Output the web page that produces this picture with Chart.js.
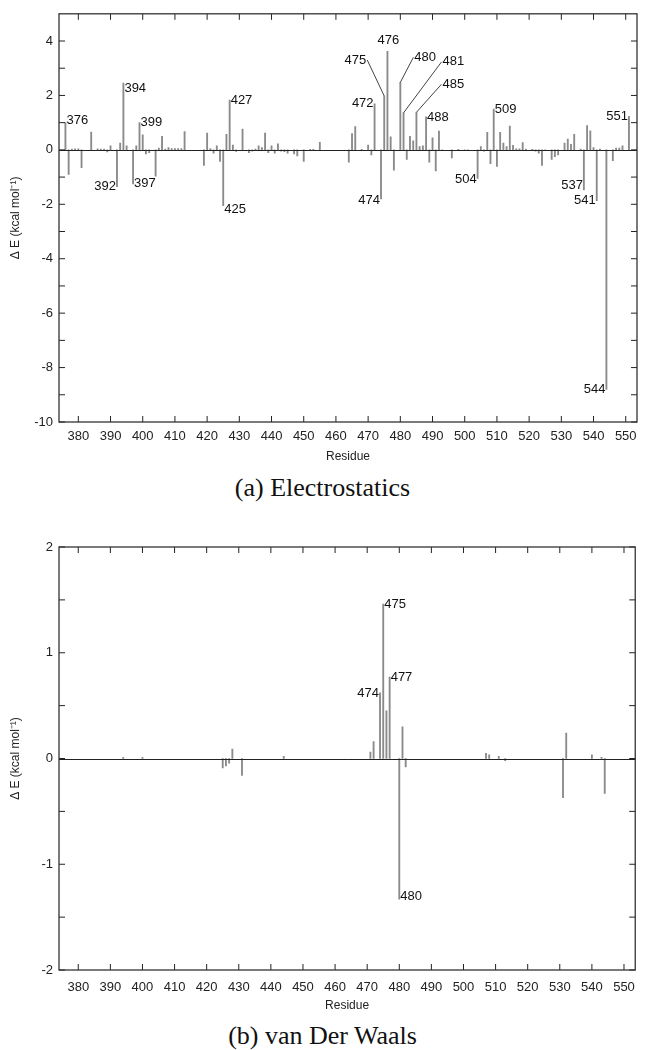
<!DOCTYPE html>
<html>
<head>
<meta charset="utf-8">
<script src="https://cdn.jsdelivr.net/npm/chart.js@4.4.1/dist/chart.umd.min.js"></script>
<style>
  body { margin: 0; background: #fff; }
  .page { position: relative; width: 645px; height: 1050px; }
  .plot { position: absolute; left: 0; width: 645px; }
  .caption {
    position: absolute; left: 0; width: 645px; text-align: center;
    font-family: 'Liberation Serif', 'Times New Roman', serif;
    font-size: 26px; line-height: 32px; color: #111;
  }
</style>
</head>
<body>
<div class="page">
  <div class="plot" style="top:0;height:470px"><canvas id="elecChart"></canvas></div>
  <div class="caption" style="top:472px">(a) Electrostatics</div>
  <div class="plot" style="top:500px;height:520px"><canvas id="vdwChart"></canvas></div>
  <div class="caption" style="top:1020px">(b) van Der Waals</div>
</div>
<script>
// --- data ---
const xTicks = [380, 390, 400, 410, 420, 430, 440, 450, 460, 470, 480, 490, 500, 510, 520, 530, 540, 550];

// (a) electrostatics, kcal/mol per residue
const elecResidues = [
  376, 377, 378, 379, 380, 381, 384, 386, 387, 388, 389, 390, 392, 393, 394, 395, 397, 398, 399, 400,
  401, 402, 404, 405, 406, 407, 408, 409, 410, 411, 412, 413, 419, 420, 421, 422, 423, 424, 425, 426,
  427, 428, 429, 431, 433, 434, 435, 436, 437, 438, 439, 440, 441, 442, 443, 444, 445, 447, 448, 450,
  452, 453, 455, 464, 465, 466, 468, 470, 471, 472, 474, 475, 476, 477, 478, 480, 481, 482, 483, 484,
  485, 486, 487, 488, 489, 490, 491, 492, 493, 496, 498, 500, 501, 504, 505, 506, 507, 508, 509, 510,
  511, 512, 513, 514, 515, 516, 517, 518, 519, 521, 522, 523, 524, 525, 527, 528, 529, 531, 532, 533,
  534, 536, 537, 538, 539, 540, 541, 542, 544, 546, 547, 548, 549, 551
];
const elecValues = [
  1.0, -0.9, 0.03, 0.04, 0.04, -0.65, 0.65, 0.04, 0.03, 0.03, -0.08, 0.15, -1.35, 0.25, 2.45, 0.15, -1.25, 0.15, 1.0, 0.55,
  -0.15, -0.1, -0.97, 0.07, 0.5, 0.03, 0.08, 0.05, 0.05, 0.05, 0.05, 0.67, -0.57, 0.62, 0.05, -0.12, 0.15, -0.42, -2.05, 0.57,
  1.83, 0.18, -0.06, 0.76, -0.1, -0.05, 0.03, 0.15, 0.08, 0.62, -0.1, 0.15, -0.12, 0.22, -0.05, -0.07, -0.12, -0.15, -0.22, -0.42,
  0.02, 0.02, 0.28, -0.45, 0.6, 0.86, 0.02, 0.18, -0.19, 1.69, -1.8, 1.98, 3.62, 0.48, -0.75, 2.48, 1.36, -0.35, 0.5, 0.33,
  1.38, 0.12, 0.15, 1.21, -0.45, 0.44, -0.77, 0.69, -0.03, -0.3, 0.02, -0.02, -0.03, -1.05, 0.12, -0.05, 0.64, -0.51, 1.5, -0.61,
  0.64, 0.25, 0.12, 0.87, 0.17, 0.04, 0.04, 0.27, 0.03, 0.02, -0.05, -0.12, -0.57, -0.03, -0.35, -0.25, -0.19, 0.25, 0.4, 0.2,
  0.57, 0.03, -1.47, 0.89, 0.7, 0.08, -1.87, 0.03, -8.8, -0.4, 0.07, 0.07, 0.15, 1.23
];
const elecYTicks = [-10, -8, -6, -4, -2, 0, 2, 4];
const elecLabelled = [376, 392, 394, 397, 399, 425, 427, 472, 474, 475, 476, 480, 481, 485, 488, 504, 509, 537, 541, 544, 551];

// (b) van der Waals
const vdwResidues = [394, 400, 425, 426, 427, 428, 431, 444, 471, 472, 474, 475, 476, 477, 480, 481, 482, 507, 508, 511, 513, 531, 532, 540, 543, 544];
const vdwValues = [0.01, 0.01, -0.09, -0.07, -0.045, 0.09, -0.16, 0.02, 0.06, 0.16, 0.62, 1.46, 0.45, 0.77, -1.33, 0.3, -0.08, 0.05, 0.035, 0.02, -0.02, -0.37, 0.24, 0.035, 0.01, -0.33];
const vdwYTicks = [-2, -1, 0, 1, 2];
const vdwLabelled = [474, 475, 477, 480];

// --- label placement (style only) ---
const elecLabelPlace = {
    376: { align: 'left', dy: -2 },
    392: { align: 'right' },
    394: { align: 'left', dy: 5 },
    397: { align: 'left' },
    399: { align: 'left' },
    425: { align: 'left', dy: 4 },
    427: { align: 'left' },
    472: { align: 'right' },
    474: { align: 'right', dy: 2 },
    475: { align: 'right', dx: -17, dy: -36, leader: true },
    476: { align: 'center' },
    480: { align: 'left', dx: 13, dy: -25, leader: true },
    481: { align: 'left', dx: 38, dy: -51, leader: true },
    485: { align: 'left', dx: 25, dy: -28, leader: true },
    488: { align: 'left' },
    504: { align: 'right', dy: 1 },
    509: { align: 'left' },
    537: { align: 'right', dy: -4 },
    541: { align: 'right' },
    544: { align: 'right' },
    551: { align: 'right' }
};
const vdwLabelPlace = {
    474: { align: 'right' },
    475: { align: 'left' },
    477: { align: 'left' },
    480: { align: 'left', dy: -3 }
};

Chart.defaults.font.family = "'Liberation Sans', Arial, sans-serif";
Chart.defaults.font.size = 13;
Chart.defaults.color = '#222';

// gnuplot-like box, zero axis and inward ticks
const gnuFrame = {
    id: 'gnuFrame',
    afterDatasetsDraw(chart) {
        const { ctx, chartArea: a, scales: { x, y } } = chart;
        const seg = (x1, y1, x2, y2) => { ctx.beginPath(); ctx.moveTo(x1, y1); ctx.lineTo(x2, y2); ctx.stroke(); };
        ctx.save();
        ctx.strokeStyle = '#222';
        ctx.lineWidth = 1;
        const y0 = Math.round(y.getPixelForValue(0)) + 0.5;
        seg(a.left, y0, a.right, y0);

        const len = 6;
        x.ticks.forEach(t => {
            const px = x.getPixelForValue(t.value);
            seg(px, a.bottom, px, a.bottom - len);
            seg(px, a.top, px, a.top + len);
        });
        const yv = y.ticks.map(t => t.value);
        const marks = yv.slice();
        for (let i = 0; i < yv.length - 1; i++) marks.push((yv[i] + yv[i + 1]) / 2);
        marks.forEach(v => {
            const py = y.getPixelForValue(v);
            seg(a.left, py, a.left + len, py);
            seg(a.right, py, a.right - len, py);
        });

        ctx.strokeStyle = '#333';
        ctx.lineWidth = 1.3;
        ctx.strokeRect(a.left, a.top, a.right - a.left, a.bottom - a.top);
        ctx.restore();
    }
};

// residue number labels at the tips of chosen impulses
const impulseLabels = {
    id: 'impulseLabels',
    afterDatasetsDraw(chart, args, opts) {
        const { ctx, scales: { x, y } } = chart;
        ctx.save();
        ctx.font = '13px ' + Chart.defaults.font.family;
        ctx.fillStyle = '#111';
        ctx.strokeStyle = '#444';
        ctx.lineWidth = 1;
        opts.labelled.forEach(res => {
            const i = opts.residues.indexOf(res);
            const v = opts.values[i];
            const px = x.getPixelForValue(res);
            const py = y.getPixelForValue(v);
            const p = opts.place[res] || { align: 'left' };
            const tx = px + (p.dx || 0);
            const ty = py + (p.dy || 0);
            if (p.leader) {
                ctx.beginPath();
                ctx.moveTo(px, py);
                ctx.lineTo(tx, ty);
                ctx.stroke();
            }
            if (p.align === 'center') {
                ctx.textAlign = 'center';
                ctx.textBaseline = 'bottom';
                ctx.fillText(String(res), px + 1, py - 4);
            } else {
                ctx.textAlign = p.align;
                ctx.textBaseline = 'middle';
                ctx.fillText(String(res), tx + (p.align === 'left' ? 1 : -1), ty);
            }
        });
        ctx.restore();
    }
};

function makeImpulseChart(canvasId, residues, values, yTicks, yMin, yMax, labelled, place, cfg) {
    return new Chart(document.getElementById(canvasId), {
        type: 'bar',
        data: {
            datasets: [{
                data: residues.map((r, i) => ({ x: r, y: values[i] })),
                backgroundColor: '#8a8a8a',
                borderWidth: 0,
                barThickness: 1.2
            }]
        },
        plugins: [gnuFrame, impulseLabels],
        options: {
            responsive: true,
            maintainAspectRatio: false,
            animation: false,
            layout: { padding: { left: 0, right: 8, top: cfg.padTop, bottom: 0 } },
            plugins: {
                legend: { display: false },
                tooltip: { enabled: false },
                impulseLabels: { residues, values, labelled, place }
            },
            scales: {
                x: {
                    type: 'linear',
                    min: 374,
                    max: 553.5,
                    offset: false,
                    afterBuildTicks: (axis) => { axis.ticks = xTicks.map(v => ({ value: v })); },
                    afterFit: (axis) => { axis.height = cfg.xAxisHeight; },
                    grid: { display: false, drawTicks: false },
                    border: { display: false },
                    ticks: { padding: cfg.tickPad, maxRotation: 0, autoSkip: false, color: '#222' },
                    title: {
                        display: true, text: 'Residue', color: '#222',
                        font: { size: 12 }, padding: { top: 0, bottom: cfg.titlePad }
                    }
                },
                y: {
                    min: yMin,
                    max: yMax,
                    afterBuildTicks: (axis) => { axis.ticks = yTicks.map(v => ({ value: v })); },
                    afterFit: (axis) => { axis.width = 59; },
                    grid: { display: false, drawTicks: false },
                    border: { display: false },
                    ticks: { padding: 6, color: '#222' },
                    title: {
                        display: true, text: 'Δ E (kcal mol⁻¹)', color: '#222',
                        font: { size: 12 }, padding: { top: 8, bottom: 0 }
                    }
                }
            }
        }
    });
}

document.addEventListener('DOMContentLoaded', () => {
    makeImpulseChart('elecChart', elecResidues, elecValues, elecYTicks, -10, 5,
        elecLabelled, elecLabelPlace, { padTop: 3, xAxisHeight: 48, tickPad: 7, titlePad: 6 });
    makeImpulseChart('vdwChart', vdwResidues, vdwValues, vdwYTicks, -2, 2,
        vdwLabelled, vdwLabelPlace, { padTop: 47, xAxisHeight: 50, tickPad: 10, titlePad: 7 });
});
</script>
</body>
</html>
